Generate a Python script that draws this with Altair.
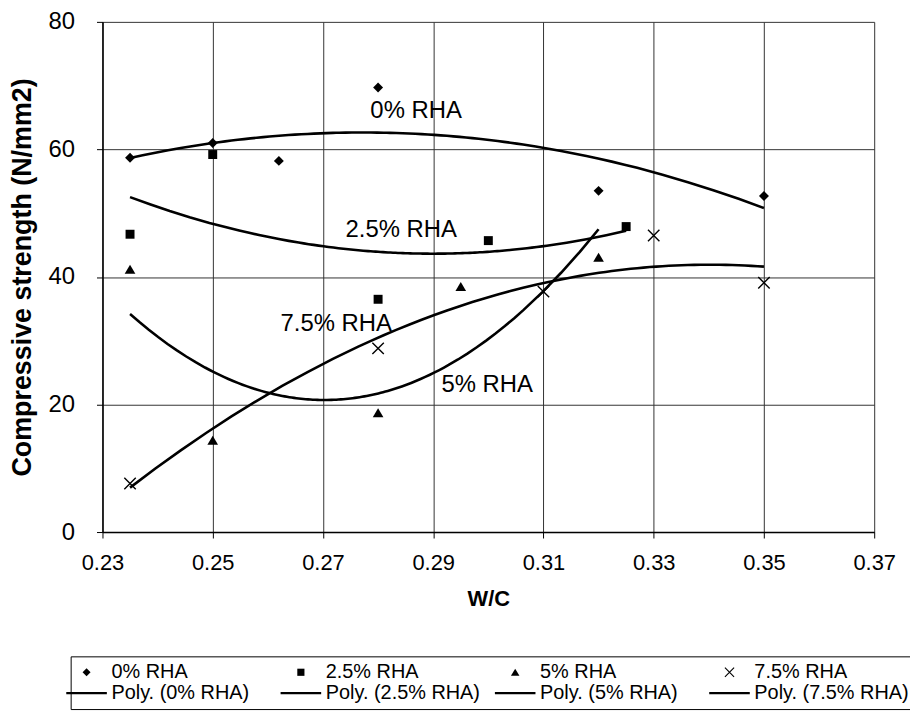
import altair as alt
import pandas as pd

# ---- data ----
wc_0 = [0.235, 0.25, 0.262, 0.28, 0.32, 0.35]
cs_0 = [58.7, 61.0, 58.2, 69.7, 53.5, 52.7]
wc_25 = [0.235, 0.25, 0.28, 0.30, 0.325]
cs_25 = [46.7, 59.2, 36.5, 45.7, 47.9]
wc_5 = [0.235, 0.25, 0.28, 0.295, 0.32]
cs_5 = [41.2, 14.4, 18.7, 38.5, 43.1]
wc_75 = [0.235, 0.28, 0.31, 0.33, 0.35]
cs_75 = [7.6, 28.8, 37.7, 46.5, 39.1]

series_names = ["0% RHA", "2.5% RHA", "5% RHA", "7.5% RHA"]
trend_names = ["Poly. (0% RHA)", "Poly. (2.5% RHA)", "Poly. (5% RHA)", "Poly. (7.5% RHA)"]
x_ticks = [0.23, 0.25, 0.27, 0.29, 0.31, 0.33, 0.35, 0.37]
y_ticks = [0, 20, 40, 60, 80]

label_texts = ["0% RHA", "2.5% RHA", "7.5% RHA", "5% RHA"]
label_wc = [0.2786, 0.2741, 0.2623, 0.2915]
label_cs = [66.0, 47.3, 32.6, 23.1]

# ---- tables ----
rows = []
for name, xs, ys in zip(series_names, [wc_0, wc_25, wc_5, wc_75], [cs_0, cs_25, cs_5, cs_75]):
    for xv, yv in zip(xs, ys):
        rows.append({"series": name, "wc": xv, "cs": yv})
df = pd.DataFrame(rows)
labels_df = pd.DataFrame({"text": label_texts, "wc": label_wc, "cs": label_cs})

FONT = "Liberation Sans"

diamond = "M-1,0L0,-1L1,0L0,1Z"
square = "M-0.9,-0.9H0.9V0.9H-0.9Z"
triangle = "M0,-0.9L1.07,0.9L-1.07,0.9Z"
L, s = 1.15, 0.1
xcross = (f"M{-L+s},{-L-s}L{L+s},{L-s}L{L-s},{L+s}L{-L-s},{-L+s}Z"
          f"M{-L-s},{L-s}L{L-s},{-L-s}L{L+s},{-L+s}L{-L+s},{L+s}Z")
hline = "M-5.1,-0.3H5.1V0.3H-5.1Z"

legend_domain = series_names + trend_names
legend_range = [diamond, square, triangle, xcross, hline, hline, hline, hline]

x_scale = alt.Scale(domain=[0.23, 0.37], nice=False, zero=False)
y_scale = alt.Scale(domain=[0, 80], nice=False)

x_axis = alt.Axis(values=x_ticks, format=".2f", title="W/C", labelFontSize=22,
                  labelFlush=False, labelPadding=15, titlePadding=15, titleFontSize=22,
                  titleFontWeight="bold", tickSize=6, grid=True)
y_axis = alt.Axis(values=y_ticks, title="Compressive strength (N/mm2)", labelFontSize=24,
                  labelFlush=False, labelPadding=22, titlePadding=12, titleFontSize=27,
                  titleFontWeight="bold", tickSize=6, grid=True)

base = alt.Chart(df)

points = base.mark_point(filled=True, fill="black", strokeWidth=0,
                         opacity=1, size=100).encode(
    x=alt.X("wc:Q", scale=x_scale, axis=x_axis),
    y=alt.Y("cs:Q", scale=y_scale, axis=y_axis),
    shape=alt.Shape("series:N", scale=alt.Scale(domain=legend_domain, range=legend_range),
                    legend=alt.Legend(title=None, orient="none", legendX=-32, legendY=638,
                                      columns=4, direction="horizontal", symbolSize=64,
                                      labelOffset=15, columnPadding=13.5, rowPadding=1,
                                      gridAlign="all", strokeColor="black", padding=6,
                                      fillColor="white", labelFont=FONT, labelFontSize=20,
                                      labelColor="black", labelLimit=400,
                                      symbolFillColor="black", symbolStrokeColor="black",
                                      symbolStrokeWidth=0, symbolOpacity=1)),
)

trends = base.transform_regression("wc", "cs", method="poly", order=2,
                                   groupby=["series"]).mark_line(
    color="black", strokeWidth=2.6).encode(
    x=alt.X("wc:Q", scale=x_scale),
    y=alt.Y("cs:Q", scale=y_scale),
    detail="series:N",
)

texts = alt.Chart(labels_df).mark_text(align="left", baseline="middle", font=FONT,
                                       fontSize=24, color="black").encode(
    x=alt.X("wc:Q", scale=x_scale),
    y=alt.Y("cs:Q", scale=y_scale),
    text="text:N",
)

chart = alt.layer(trends, points, texts).properties(
    width=776, height=513,
    autosize=alt.AutoSizeParams(type="none"),
    padding={"left": 95, "top": 12, "right": 36, "bottom": 179},
    background="white",
).configure_view(stroke=None).configure_axis(
    labelFont=FONT, titleFont=FONT, labelColor="black", titleColor="black",
    domainColor="black", domainWidth=1.5, tickColor="black", tickWidth=1,
    gridColor="#333333", gridWidth=1, gridOpacity=1,
)

chart.save("out.html", embed_options={"renderer": "svg", "actions": False})
